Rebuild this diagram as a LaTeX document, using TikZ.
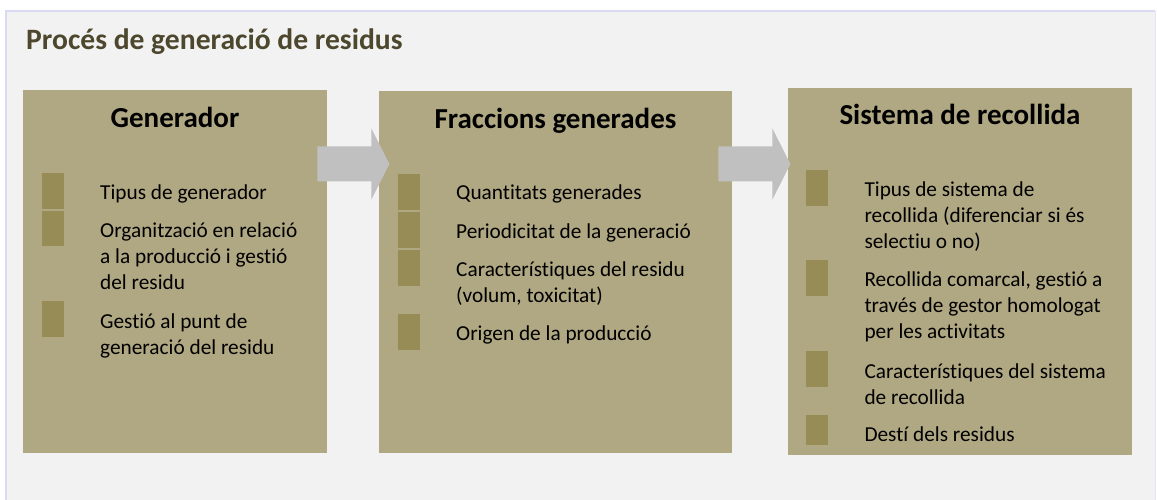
\documentclass[tikz,border=0pt]{standalone}
\usepackage{fontspec}
\setmainfont{Carlito}[Ligatures=NoCommon]
\usetikzlibrary{calc}
\definecolor{bgc}{HTML}{F2F2F2}
\definecolor{framec}{HTML}{DADAF4}
\definecolor{boxc}{HTML}{B0A882}
\definecolor{bulc}{HTML}{978C56}
\definecolor{arrc}{HTML}{C0C0C0}
\definecolor{titlec}{HTML}{4C472D}
\tikzset{
  box/.style={fill=boxc, draw=none, anchor=north west, inner sep=0pt},
  head/.style={anchor=base, inner sep=0pt, font=\fontsize{29}{34}\selectfont\bfseries, text=black},
  item/.style={anchor=base west, inner sep=0pt, text=black},
  bul/.style={fill=bulc},
  arr/.style={fill=arrc},
}
\newcommand\itemtext[1]{\parbox[t]{300pt}{\fontsize{21.3}{26}\selectfont #1}}
\newcommand\blockarrow[1]{\fill[arr] (#1) ++(0,-17.5) -- ++(54,0) -- ++(0,-18) -- ++(18,35.5) -- ++(-18,35.5) -- ++(0,-18) -- ++(-54,0) -- cycle;}
\begin{document}
\begin{tikzpicture}[x=1pt,y=-1pt]
\useasboundingbox (0,0) rectangle (1157,500);
\fill[white] (0,0) rectangle (1157,500);
\fill[bgc] (5,10) rectangle (1155,520);
\draw[framec, line width=1.8pt] (5.9,520) -- (5.9,10.9) -- (1155,10.9);
\draw[framec!50!bgc, line width=0.8pt] (1155,10.9) -- (1155,520);

\node[anchor=base west, inner sep=0pt, font=\fontsize{29.6}{34}\selectfont\bfseries, text=titlec] (title) at (26,50) {Procés de generació de residus};

% boxes
\node[box, minimum width=304pt, minimum height=363pt] (b1) at (23,90) {};
\node[box, minimum width=353pt, minimum height=362pt] (b2) at (379,91) {};
\node[box, minimum width=344pt, minimum height=367pt] (b3) at (788,88) {};

% arrows
\coordinate (a1) at ($(b1.north east)+(-10,74)$);
\coordinate (a2) at ($(b2.north east)+(-14,73)$);
\blockarrow{a1}
\blockarrow{a2}

% headings
\node[head] (h1) at (175,128) {Generador};
\node[head] (h2) at (555.5,129) {Fraccions generades};
\node[head] (h3) at (960,125) {Sistema de recollida};

% box 1 items
\fill[bul] (42,173.3) rectangle (64,208.7);
\fill[bul] (42,211) rectangle (64,246.3);
\fill[bul] (42,301) rectangle (64,336.7);
\node[item] (i11) at (100,199.3) {\itemtext{Tipus de generador}};
\node[item] (i12) at (100,237.7) {\itemtext{Organització en relació\\a la producció i gestió\\del residu}};
\node[item] (i13) at (100,328.3) {\itemtext{Gestió al punt de\\generació del residu}};

% box 2 items
\fill[bul] (398.3,174.3) rectangle (420,209.7);
\fill[bul] (398.3,212.3) rectangle (420,247.7);
\fill[bul] (398.3,250.3) rectangle (420,285.7);
\fill[bul] (398.3,314) rectangle (420,349.7);
\node[item] (i21) at (456,200) {\itemtext{Quantitats generades}};
\node[item] (i22) at (456,238.3) {\itemtext{Periodicitat de la generació}};
\node[item] (i23) at (456,276.7) {\itemtext{Característiques del residu\\(volum, toxicitat)}};
\node[item] (i24) at (456,340) {\itemtext{Origen de la producció}};

% box 3 items
\fill[bul] (806,170) rectangle (827.7,205.7);
\fill[bul] (806,260) rectangle (827.7,295.7);
\fill[bul] (806,351) rectangle (827.7,386.7);
\fill[bul] (806,415) rectangle (827.7,445);
\node[item] (i31) at (864.3,196.7) {\itemtext{Tipus de sistema de\\recollida (diferenciar si és\\selectiu o no)}};
\node[item] (i32) at (864.3,286.7) {\itemtext{Recollida comarcal, gestió a\\través de gestor homologat\\per les activitats}};
\node[item] (i33) at (864.3,378.3) {\itemtext{Característiques del sistema\\de recollida}};
\node[item] (i34) at (864.3,441) {\itemtext{Destí dels residus}};
\end{tikzpicture}
\end{document}
